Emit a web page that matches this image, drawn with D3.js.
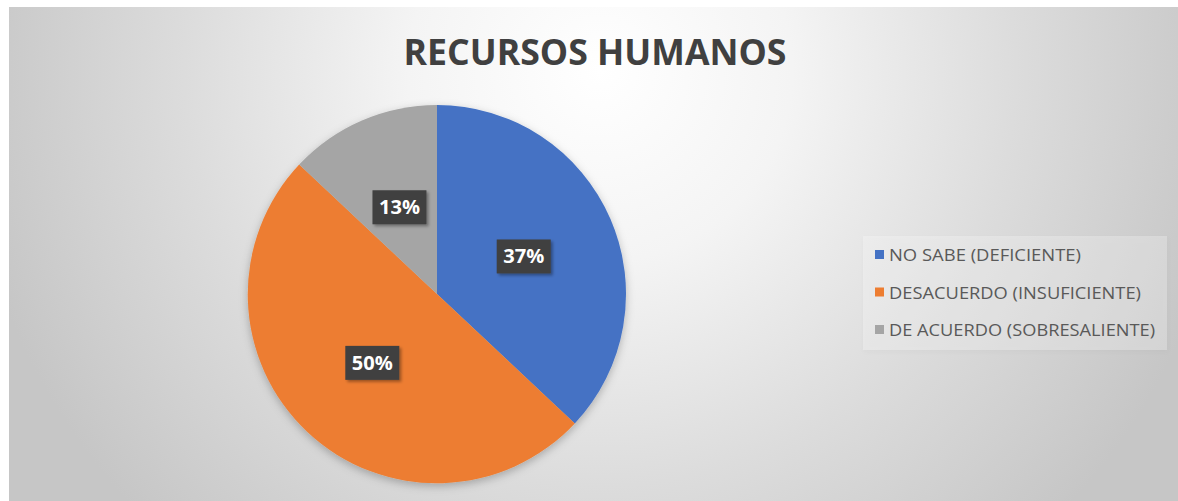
<!DOCTYPE html>
<html>
<head>
<meta charset="utf-8">
<script src="https://cdn.jsdelivr.net/npm/d3@7"></script>
<style>
html,body{margin:0;padding:0;background:#fff;}
svg{display:block;}
</style>
</head>
<body>
<svg id="chart" width="1178" height="501"></svg>
<script>
const title = "RECURSOS HUMANOS";
const categories = ["NO SABE (DEFICIENTE)", "DESACUERDO (INSUFICIENTE)", "DE ACUERDO (SOBRESALIENTE)"];
const values = [37, 50, 13];
const labels = ["37%", "50%", "13%"];
const colors = ["#4472C4", "#ED7D31", "#A5A5A5"];

const W = 1178, H = 501;
const svg = d3.select("#chart");
const defs = svg.append("defs");

const grad = defs.append("radialGradient").attr("id","bg")
  .attr("gradientUnits","userSpaceOnUse").attr("cx",600).attr("cy",70).attr("r",640);
[[0,"#ffffff"],[0.3,"#f4f4f4"],[0.65,"#dcdcdc"],[1,"#c6c6c6"]].forEach(([o,c])=>
  grad.append("stop").attr("offset",o).attr("stop-color",c));

const sh = defs.append("filter").attr("id","pieShadow").attr("x","-20%").attr("y","-20%").attr("width","140%").attr("height","140%");
sh.append("feDropShadow").attr("dx",0).attr("dy",3).attr("stdDeviation",4).attr("flood-color","#000").attr("flood-opacity",0.25);

const lsh = defs.append("filter").attr("id","lblShadow").attr("x","-30%").attr("y","-30%").attr("width","160%").attr("height","160%");
lsh.append("feDropShadow").attr("dx",2).attr("dy",2).attr("stdDeviation",1.5).attr("flood-color","#000").attr("flood-opacity",0.35);

const legSh = defs.append("filter").attr("id","legShadow").attr("x","-10%").attr("y","-10%").attr("width","120%").attr("height","120%");
legSh.append("feDropShadow").attr("dx",1).attr("dy",2).attr("stdDeviation",2).attr("flood-color","#000").attr("flood-opacity",0.1);

// background
svg.append("rect").attr("x",9).attr("y",7).attr("width",W-9).attr("height",H-7).attr("fill","url(#bg)");

// title
svg.append("text").attr("x",595).attr("y",65).attr("text-anchor","middle")
  .attr("font-family","Open Sans, sans-serif").attr("font-weight","bold")
  .attr("font-size",36).attr("fill","#404040")
  .attr("textLength",383).attr("lengthAdjust","spacingAndGlyphs")
  .text(title);

// pie
const cx = 437, cy = 294, R = 189;
const pie = d3.pie().sort(null).value(d=>d);
const arcs = pie(values);
const arc = d3.arc().innerRadius(0).outerRadius(R);
const g = svg.append("g").attr("transform",`translate(${cx},${cy})`);
g.append("g").attr("filter","url(#pieShadow)").selectAll("path").data(arcs).join("path")
  .attr("d",arc).attr("fill",(d,i)=>colors[i]);

// labels
const lg = g.selectAll("g.lbl").data(arcs).join("g").attr("class","lbl")
  .attr("transform",d=>`translate(${arc.centroid(d)})`);
lg.append("rect").attr("x",-27).attr("y",-17).attr("width",54).attr("height",34)
  .attr("fill","#404040").attr("filter","url(#lblShadow)");
lg.append("text").attr("text-anchor","middle").attr("dy","0.36em")
  .attr("font-family","Open Sans, sans-serif").attr("font-weight","bold")
  .attr("font-size",19).attr("fill","#ffffff")
  .attr("textLength",41).attr("lengthAdjust","spacingAndGlyphs")
  .text((d,i)=>labels[i]);

// legend
const legX = 863, legY = 236;
svg.append("rect").attr("x",legX).attr("y",legY).attr("width",304).attr("height",114)
  .attr("fill","#ffffff").attr("fill-opacity",0.25).attr("filter","url(#legShadow)");
const legWidths = [192, 252, 266];
const items = svg.append("g").selectAll("g").data(categories).join("g")
  .attr("transform",(d,i)=>`translate(${legX+12},${legY+19+i*37.5})`);
items.append("rect").attr("x",0).attr("y",-5).attr("width",9).attr("height",9)
  .attr("fill",(d,i)=>colors[i]);
items.append("text").attr("x",14).attr("y",0).attr("dy","0.37em")
  .attr("font-family","Open Sans, sans-serif").attr("font-size",17).attr("fill","#595959")
  .attr("textLength",(d,i)=>legWidths[i]).attr("lengthAdjust","spacingAndGlyphs")
  .text(d=>d);
</script>
</body>
</html>
